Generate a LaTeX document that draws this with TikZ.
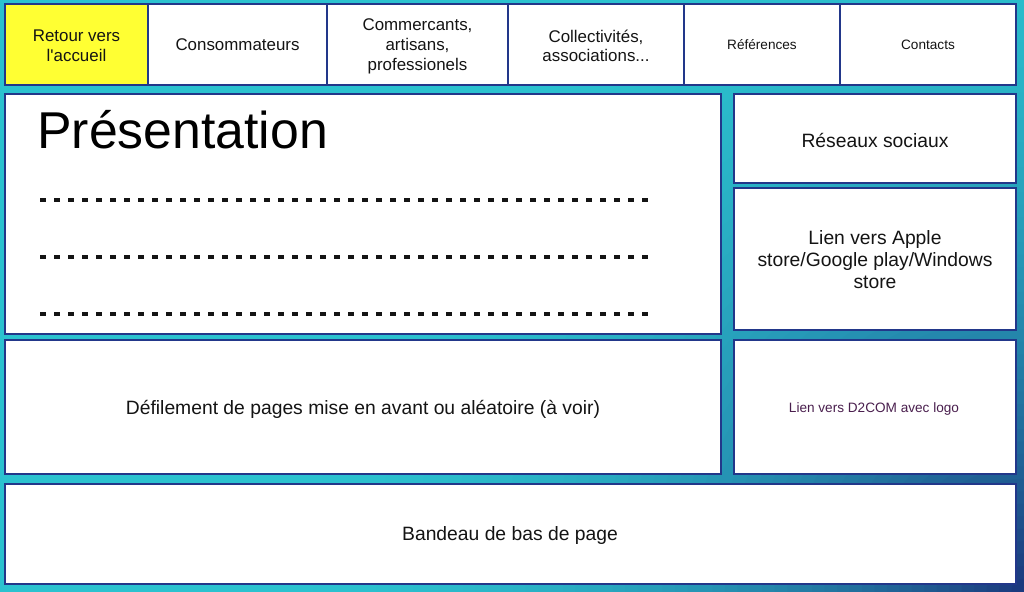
\documentclass[tikz,border=0pt]{standalone}
\usepackage{fontspec}
\setmainfont{Liberation Sans}
\usetikzlibrary{calc}
\definecolor{bgcyan}{HTML}{2BC2CF}
\definecolor{bgnavy}{HTML}{1B3A7E}
\definecolor{edge}{HTML}{22378A}
\definecolor{ink}{HTML}{141414}
\definecolor{plum}{HTML}{4A1F4E}
\definecolor{navyellow}{HTML}{FFFF33}
\tikzset{
  box/.style={draw=edge, line width=2.2pt, fill=white, inner sep=2pt, align=center, text=ink},
  navfont/.style={font=\fontsize{16.9}{19.7}\selectfont},
  smallfont/.style={font=\fontsize{13.6}{16}\selectfont},
  bodyfont/.style={font=\fontsize{19.3}{22}\selectfont},
  dotline/.style={line width=4pt, dash pattern=on 5.5pt off 8.5pt, ink}
}
\begin{document}
\begin{tikzpicture}[x=1pt,y=-1pt]
\useasboundingbox (0,0) rectangle (1024,591);
\fill[bgcyan] (-10,-10) rectangle (1034,601);
\foreach \i in {1,...,60}{
  \pgfmathsetmacro{\rr}{760*(1-\i/61)}
  \pgfmathsetmacro{\ff}{100*(\i/60)^2}
  \fill[bgnavy!\ff!bgcyan] (1024,591) circle (\rr);
}

% top navigation
\node[box, fill=navyellow, minimum width=143pt, minimum height=81pt] (n1) at (76.5,44.5) {};
\node[navfont, align=center, text=ink] (n1t) at (76.5,45.5) {Retour vers\\l\textquotesingle accueil};
\node[box, navfont, minimum width=179pt, minimum height=81pt] (n2) at (237.5,44.5) {Consommateurs};
\node[box, minimum width=181pt, minimum height=81pt] (n3) at (417.5,44.5) {};
\node[navfont, align=center, text=ink] (n3t) at (417.5,46.5) {Commercants,\\artisans,\\professionels};
\node[box, minimum width=176pt, minimum height=81pt] (n4) at (596,44.5) {};
\node[navfont, align=center, text=ink] (n4t) at (596,46) {Collectivités,\\associations...};
\node[box, smallfont, minimum width=156pt, minimum height=81pt] (n5) at (762,44.5) {Références};
\node[box, smallfont, minimum width=176pt, minimum height=81pt] (n6) at (928,44.5) {Contacts};

% presentation
\node[box, minimum width=716pt, minimum height=240pt] (pres) at (363,214) {};
\node[anchor=base west, inner sep=0pt, text=black, font=\fontsize{51.8}{60}\selectfont] (prestitle) at (37,148) {Présentation};
\draw[dotline] (40,200) -- (655,200);
\draw[dotline] (40,257) -- (655,257);
\draw[dotline] (40,314) -- (655,314);

% right column
\node[box, minimum width=282pt, minimum height=89pt] (soc) at (875,138.5) {};
\node[bodyfont, text=ink] (soct) at (875,140) {Réseaux sociaux};
\node[box, minimum width=282pt, minimum height=142pt] (store) at (875,259) {};
\node[bodyfont, align=center, text=ink] (storet) at (875,260) {Lien vers Apple\\store/Google play/Windows\\store};
\node[box, minimum width=716pt, minimum height=134pt] (defil) at (363,407) {};
\node[bodyfont, text=ink] (defilt) at (363,409.5) {Défilement de pages mise en avant ou aléatoire (à voir)};
\node[box, minimum width=282pt, minimum height=134pt] (d2com) at (875,407) {};
\node[font=\fontsize{13.6}{16}\selectfont, text=plum] (d2comt) at (874,408.5) {Lien vers D2COM avec logo};
\node[box, minimum width=1011pt, minimum height=100pt] (foot) at (510.5,534) {};
\node[bodyfont, text=ink] (foott) at (510,535.5) {Bandeau de bas de page};
\end{tikzpicture}
\end{document}
